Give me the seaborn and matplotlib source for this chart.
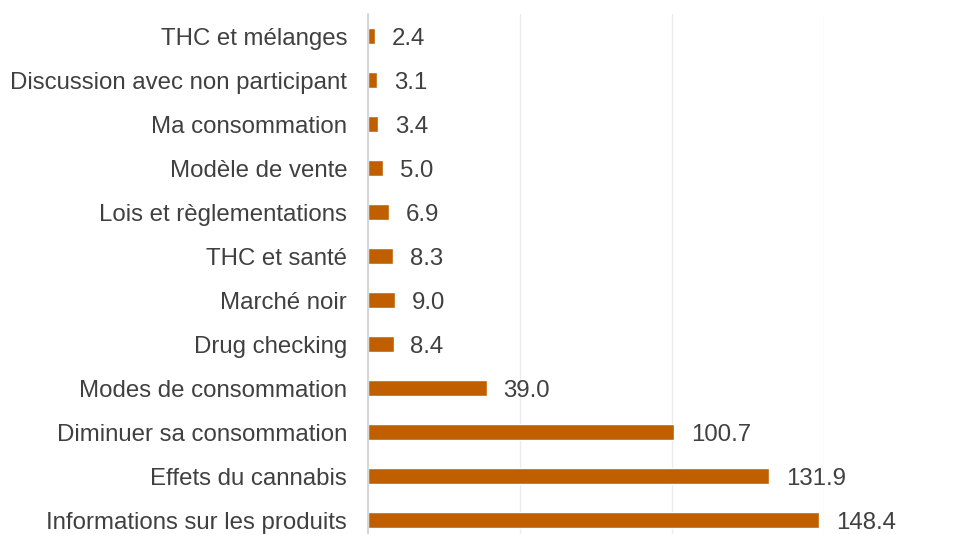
import matplotlib
matplotlib.use("Agg")
import matplotlib.pyplot as plt
import seaborn as sns
import pandas as pd

categories = [
    "THC et mélanges",
    "Discussion avec non participant",
    "Ma consommation",
    "Modèle de vente",
    "Lois et règlementations",
    "THC et santé",
    "Marché noir",
    "Drug checking",
    "Modes de consommation",
    "Diminuer sa consommation",
    "Effets du cannabis",
    "Informations sur les produits",
]
values = [2.4, 3.1, 3.4, 5.0, 6.9, 8.3, 9.0, 8.4, 39.0, 100.7, 131.9, 148.4]

df = pd.DataFrame({"categorie": categories, "valeur": values})

sns.set_style("white")
plt.rcParams["font.family"] = ["Liberation Sans", "DejaVu Sans"]

fig = plt.figure(figsize=(9.66, 5.34), dpi=100)
ax = fig.add_axes([368 / 966, -8 / 534, (824 - 368) / 966, (534 - 14 + 8) / 534])

sns.barplot(data=df, x="valeur", y="categorie", color="#C05F00",
            width=0.36, saturation=1, ax=ax)

ax.set_xlim(0, 150)
ax.set_xticks([0, 50, 100, 150])
ax.set_xticklabels([])
ax.tick_params(axis="x", length=0)
ax.tick_params(axis="y", length=0, labelsize=17.3, labelcolor="#404040", pad=15)
ax.xaxis.grid(True, color="#EBEBEB", linewidth=1)
ax.set_axisbelow(True)
ax.set_xlabel("")
ax.set_ylabel("")
for side in ["top", "right", "bottom"]:
    ax.spines[side].set_visible(False)
ax.spines["left"].set_color("#D0D0D0")
ax.spines["left"].set_linewidth(1.2)

for i, v in enumerate(values):
    ax.annotate(f"{v:.1f}", xy=(v, i), xytext=(12, -2), textcoords="offset points",
                va="center", ha="left", fontsize=17.3, color="#404040",
                annotation_clip=False)

fig.savefig("out.png", dpi=100)
